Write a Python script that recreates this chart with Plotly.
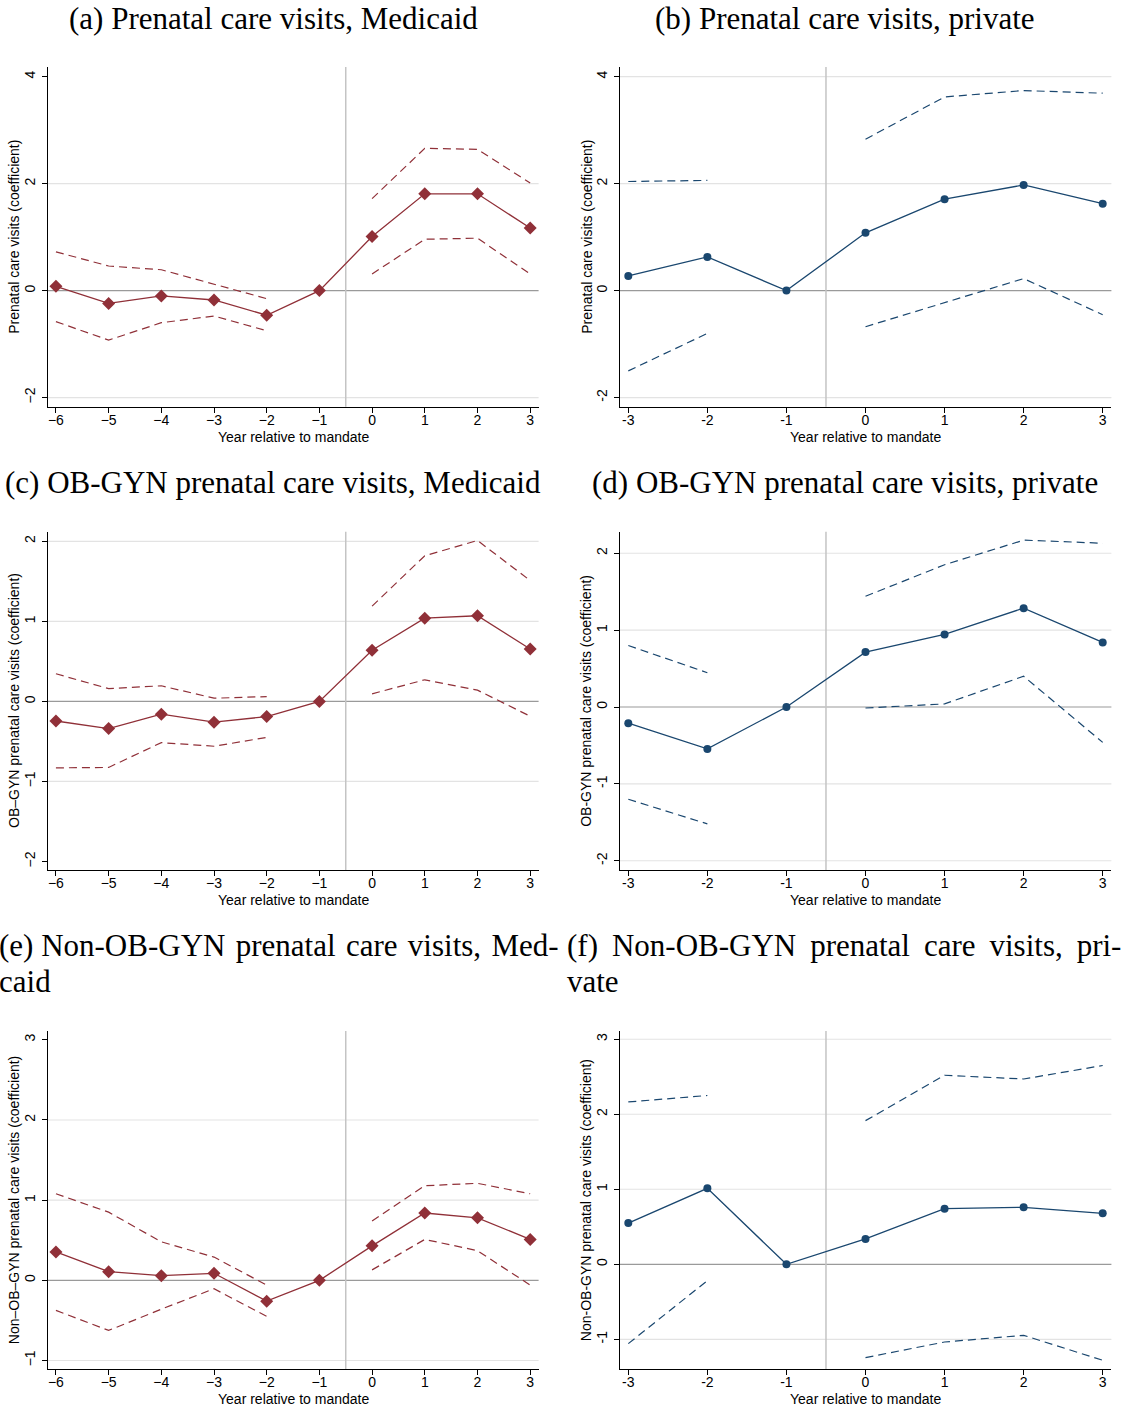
import plotly.graph_objects as go

W, H = 1127, 1409

# ---------------- data ----------------
years_medicaid = [-6, -5, -4, -3, -2, -1, 0, 1, 2, 3]
years_private = [-3, -2, -1, 0, 1, 2, 3]

a_coef = [0.08, -0.24, -0.10, -0.175, -0.46, 0, 1.01, 1.81, 1.81, 1.17]
a_hi = [0.725, 0.46, 0.39, 0.125, -0.15, None, 1.72, 2.66, 2.64, 2.01]
a_lo = [-0.58, -0.925, -0.60, -0.475, -0.75, None, 0.31, 0.96, 0.98, 0.31]

b_coef = [0.275, 0.63, 0, 1.08, 1.71, 1.975, 1.625]
b_hi = [2.04, 2.06, None, 2.83, 3.62, 3.74, 3.69]
b_lo = [-1.5, -0.8, None, -0.675, -0.225, 0.225, -0.45]

c_coef = [-0.245, -0.34, -0.16, -0.26, -0.19, 0, 0.64, 1.04, 1.07, 0.655]
c_hi = [0.345, 0.16, 0.195, 0.04, 0.06, None, 1.19, 1.82, 2.01, 1.51]
c_lo = [-0.83, -0.825, -0.515, -0.56, -0.45, None, 0.095, 0.27, 0.14, -0.185]

d_coef = [-0.21, -0.545, 0, 0.714, 0.944, 1.286, 0.84]
d_hi = [0.80, 0.446, None, 1.44, 1.85, 2.17, 2.13]
d_lo = [-1.2, -1.52, None, -0.013, 0.04, 0.40, -0.46]

e_coef = [0.354, 0.108, 0.058, 0.0875, -0.26, 0, 0.43, 0.84, 0.78, 0.51]
e_hi = [1.08, 0.85, 0.48, 0.29, -0.06, None, 0.74, 1.18, 1.21, 1.08]
e_lo = [-0.375, -0.625, -0.36, -0.105, -0.45, None, 0.13, 0.51, 0.37, -0.06]

f_coef = [0.55, 1.013, 0, 0.338, 0.742, 0.76, 0.68]
f_hi = [2.164, 2.25, None, 1.915, 2.52, 2.47, 2.65]
f_lo = [-1.058, -0.218, None, -1.244, -1.036, -0.947, -1.28]

titles = {
    "a": ["(a) Prenatal care visits, Medicaid"],
    "b": ["(b) Prenatal care visits, private"],
    "c": ["(c) OB-GYN prenatal care visits, Medicaid"],
    "d": ["(d) OB-GYN prenatal care visits, private"],
    "e": ["(e) Non-OB-GYN\u200a prenatal\u200a care\u200a visits,\u200a Med-", "caid"],
    "f": ["(f)\u2009 Non-OB-GYN\u2009 prenatal\u2009 care\u2009 visits,\u2009 pri-", "vate"],
}
ytitles = {
    "a": "Prenatal care visits (coefficient)",
    "b": "Prenatal care visits (coefficient)",
    "c": "OB\u2013GYN prenatal care visits (coefficient)",
    "d": "OB-GYN prenatal care visits (coefficient)",
    "e": "Non\u2013OB\u2013GYN prenatal care visits (coefficient)",
    "f": "Non-OB-GYN prenatal care visits (coefficient)",
}
xtitle = "Year relative to mandate"

yticks = {
    "a": [-2, 0, 2, 4], "b": [-2, 0, 2, 4],
    "c": [-2, -1, 0, 1, 2], "d": [-2, -1, 0, 1, 2],
    "e": [-1, 0, 1, 2, 3], "f": [-1, 0, 1, 2, 3],
}
ygrid = {
    "a": [-2, 2], "b": [-2, 2, 4],
    "c": [-1, 1, 2], "d": [-2, -1, 1, 2],
    "e": [-1, 1, 2], "f": [-1, 1, 2, 3],
}
yranges = {
    "a": [-2.17, 4.18], "b": [-2.17, 4.18],
    "c": [-2.11, 2.12], "d": [-2.12, 2.28],
    "e": [-1.11, 3.11], "f": [-1.40, 3.11],
}

RED = "#903038"
BLUE = "#1a476f"

# panel geometry in pixels (left, right, top, bottom)
panels = {
    "a": (47.5, 538.6, 67.0, 406.7),
    "b": (619.6, 1111.4, 67.0, 406.7),
    "c": (47.5, 538.6, 531.7, 870.3),
    "d": (619.6, 1111.4, 531.7, 870.0),
    "e": (47.5, 538.6, 1031.0, 1369.3),
    "f": (619.6, 1111.4, 1031.0, 1369.3),
}
title_pos = {  # x (px), anchor, y centers of lines
    "a": (273, "center", [18]),
    "b": (845, "center", [18]),
    "c": (273, "center", [482]),
    "d": (845, "center", [482]),
    "e": (-3, "left", [945, 981]),
    "f": (565, "left", [945, 981]),
}
ytitle_x = {"a": 14, "b": 587, "c": 14, "d": 586, "e": 14, "f": 586}
xtitle_y = {"a": 437, "b": 437, "c": 900, "d": 900, "e": 1399, "f": 1399}

series = {
    "a": (years_medicaid, a_coef, a_hi, a_lo, RED, "diamond", 10, True),
    "b": (years_private, b_coef, b_hi, b_lo, BLUE, "circle", 8, False),
    "c": (years_medicaid, c_coef, c_hi, c_lo, RED, "diamond", 10, True),
    "d": (years_private, d_coef, d_hi, d_lo, BLUE, "circle", 8, False),
    "e": (years_medicaid, e_coef, e_hi, e_lo, RED, "diamond", 10, True),
    "f": (years_private, f_coef, f_hi, f_lo, BLUE, "circle", 8, False),
}


def px_x(p):
    return p / W


def px_y(p):
    return 1 - p / H


def fmt(v, unicode_minus):
    s = str(v)
    if unicode_minus:
        s = s.replace("-", "\u2212")
    return s


fig = go.Figure()
layout = dict(
    width=W, height=H, margin=dict(l=0, r=0, t=0, b=0),
    paper_bgcolor="white", plot_bgcolor="white", showlegend=False,
)
shapes = []
annotations = []
AXFONT = dict(family="Liberation Sans, Arial, sans-serif", size=14, color="black")
TFONT = dict(family="Liberation Serif, Times New Roman, serif", size=31, color="black")

for i, key in enumerate(["a", "b", "c", "d", "e", "f"]):
    n = i + 1
    xa = "x" if n == 1 else f"x{n}"
    ya = "y" if n == 1 else f"y{n}"
    xs, coef, hi, lo, color, sym, msize, umin = series[key]
    l, r, t, b = panels[key]
    xr = [xs[0] - 0.16, xs[-1] + 0.16] if umin else [xs[0] - 0.11, xs[-1] + 0.11]

    layout[f"xaxis{'' if n == 1 else n}"] = dict(
        domain=[px_x(l), px_x(r)], anchor=ya, range=xr,
        tickvals=xs, ticktext=[fmt(v, umin) for v in xs],
        showgrid=False, zeroline=False, showline=True, linecolor="black", linewidth=1,
        ticks="outside", ticklen=5, tickcolor="black", tickwidth=1,
        ticklabelstandoff=-5,
        tickfont=AXFONT, fixedrange=True,
    )
    layout[f"yaxis{'' if n == 1 else n}"] = dict(
        domain=[px_y(b), px_y(t)], anchor=xa, range=yranges[key],
        tickvals=yticks[key], ticktext=[fmt(v, umin) for v in yticks[key]],
        tickangle=-90, ticklabelstandoff=1,
        showgrid=False, zeroline=False, showline=True, linecolor="black", linewidth=1,
        ticks="outside", ticklen=5, tickcolor="black", tickwidth=1,
        tickfont=AXFONT, fixedrange=True,
    )

    # gridlines
    for gv in ygrid[key]:
        shapes.append(dict(type="line", xref=f"{xa} domain", yref=ya, x0=0, x1=1,
                           y0=gv, y1=gv, line=dict(color="#e3e3e3", width=1.2), layer="below"))
    # zero line
    shapes.append(dict(type="line", xref=f"{xa} domain", yref=ya, x0=0, x1=1,
                       y0=0, y1=0, line=dict(color="#9a9a9a", width=1.2), layer="below"))
    # vertical mandate line
    shapes.append(dict(type="line", xref=xa, yref=f"{ya} domain", x0=-0.5, x1=-0.5,
                       y0=0, y1=1, line=dict(color="#c4c4c4", width=1.5), layer="below"))

    # CI lines
    for ci in (hi, lo):
        fig.add_trace(go.Scatter(x=xs, y=ci, mode="lines", xaxis=xa, yaxis=ya,
                                 connectgaps=False,
                                 line=dict(color=color, width=1.2, dash="8px,5px"),
                                 hoverinfo="skip"))
    # point estimates
    fig.add_trace(go.Scatter(x=xs, y=coef, mode="lines+markers", xaxis=xa, yaxis=ya,
                             line=dict(color=color, width=1.3),
                             marker=dict(symbol=sym, size=msize, color=color)))

    # titles
    tx, anchor, ys = title_pos[key]
    for line_txt, yy in zip(titles[key], ys):
        annotations.append(dict(text=line_txt, xref="paper", yref="paper",
                                x=px_x(tx), y=px_y(yy), xanchor=anchor, yanchor="middle",
                                showarrow=False, font=TFONT))
    # y title
    annotations.append(dict(text=ytitles[key], xref="paper", yref="paper",
                            x=px_x(ytitle_x[key]), y=px_y((t + b) / 2), textangle=-90,
                            xanchor="center", yanchor="middle", showarrow=False, font=AXFONT))
    # x title
    annotations.append(dict(text=xtitle, xref="paper", yref="paper",
                            x=px_x((l + r) / 2), y=px_y(xtitle_y[key]),
                            xanchor="center", yanchor="middle", showarrow=False, font=AXFONT))

layout["shapes"] = shapes
layout["annotations"] = annotations
fig.update_layout(**layout)
fig.write_html("out.html")
